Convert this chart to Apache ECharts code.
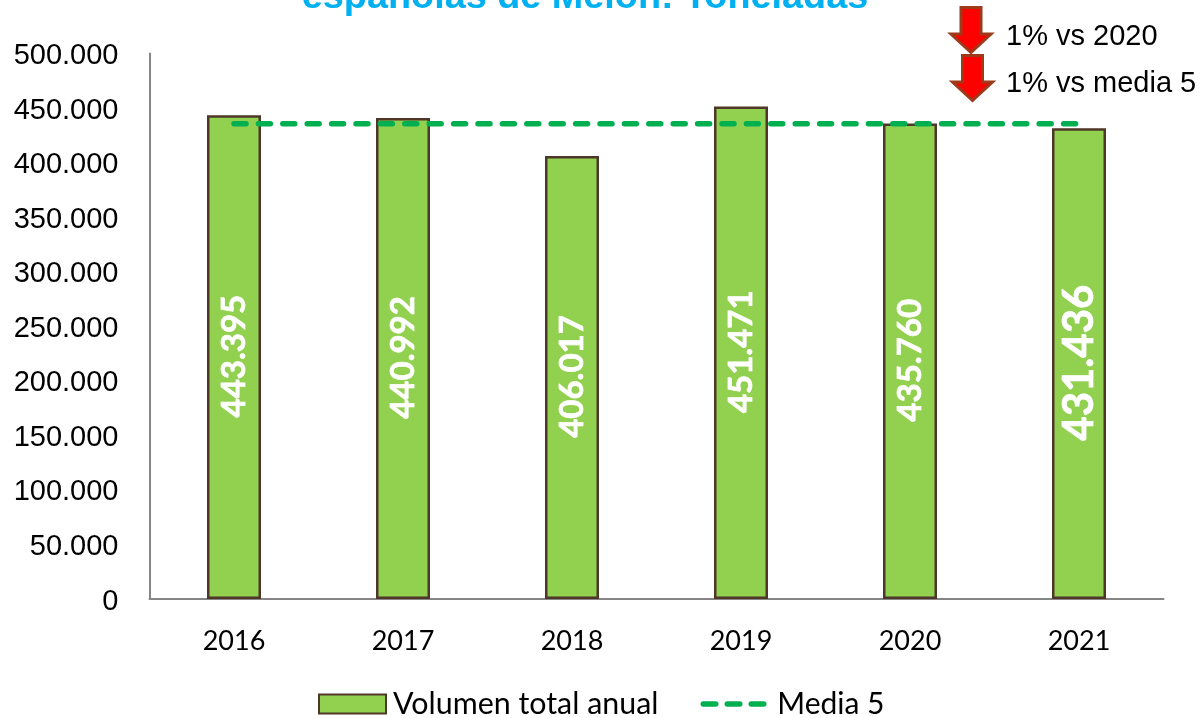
<!DOCTYPE html>
<html><head><meta charset="utf-8">
<style>html,body{margin:0;padding:0;background:#fff}#c{width:1202px;height:718px}</style>
<script src="https://cdn.jsdelivr.net/npm/echarts@6/dist/echarts.min.js"></script>
</head><body><div id="c"></div>
<script>
const categories = ['2016','2017','2018','2019','2020','2021'];
const volumen = [443395,440992,406017,451471,435760,431436];
const media5 = [435527,435527,435527,435527,435527,435527];
const yMax = 500000, yStep = 50000;
const arrowPoints = [[-10,-22.5],[10,-22.5],[10,4],[20,4],[0,22.5],[-20,4],[-10,4]];
const fmt = v => String(v).replace(/\B(?=(\d{3})+$)/g,'.');
const chart = echarts.init(document.getElementById('c'));
chart.setOption({
  animation:false,
  backgroundColor:'#fff',
  title:{text:'españolas de Melón: Toneladas',left:580,textAlign:'center',top:-26,
    textStyle:{fontFamily:'Liberation Sans',fontWeight:'bold',fontSize:37.8,color:'#00B0F0'}},
  grid:{left:149.5,right:38.5,top:53.5,bottom:119,containLabel:false},
  xAxis:{type:'category',data:categories,
    axisLine:{lineStyle:{color:'#868686',width:2}},axisTick:{show:false},
    axisLabel:{fontFamily:'Lato',fontSize:27,color:'#000',margin:29}},
  yAxis:{type:'value',min:0,max:yMax,interval:yStep,
    axisLine:{show:true,lineStyle:{color:'#868686',width:2}},axisTick:{show:false},
    splitLine:{show:false},
    axisLabel:{fontFamily:'Liberation Sans',fontSize:29,color:'#000',margin:31,verticalAlign:'top',lineHeight:5,formatter:v=>fmt(v)}},
  legend:[
    {data:[{name:'Volumen total anual',icon:'rect'}],left:318,top:689,itemWidth:67,itemHeight:19,
     textStyle:{fontFamily:'Lato',fontSize:30.4,color:'#000',padding:[0,0,0,2]},padding:0},
    {data:['Media 5'],left:700.5,top:689,itemWidth:61,itemHeight:19,
     itemStyle:{color:'transparent',borderColor:'transparent',borderWidth:0,opacity:0},
     lineStyle:{color:'#00B050',width:5.5,type:[12.5,11.5],cap:'round'},
     textStyle:{fontFamily:'Lato',fontSize:30,color:'#000',padding:[0,0,0,8]},padding:0}
  ],
  series:[
    {name:'Volumen total anual',type:'bar',barWidth:54,
     itemStyle:{color:'#92D050',borderColor:'#4E3629',borderWidth:2.5},
     data:volumen.map((v,i)=>({value:v,label:i===5?{fontSize:42}:{}})),
     label:{show:true,position:'inside',rotate:90,offset:[1,0],fontFamily:'Lato',fontWeight:'bold',fontSize:33,color:'#fff',
       textBorderColor:'#fff',textBorderWidth:0.7,formatter:p=>fmt(p.value)}},
    {name:'Media 5',type:'line',data:media5,symbol:'none',
     lineStyle:{color:'#00B050',width:5.5,type:[12,12.4],cap:'round'},itemStyle:{color:'#00B050'}}
  ],
  graphic:[
    {type:'polygon',x:971,y:30,shape:{points:arrowPoints},
     style:{fill:'#FF0000',stroke:'#9C3A1A',lineWidth:3}},
    {type:'polygon',x:972.5,y:78,shape:{points:arrowPoints},
     style:{fill:'#FF0000',stroke:'#9C3A1A',lineWidth:3}},
    {type:'text',x:1006,y:22,style:{text:'1% vs 2020',fontFamily:'Liberation Sans',fontSize:29,fill:'#000'}},
    {type:'text',x:1006,y:69,style:{text:'1% vs media 5',fontFamily:'Liberation Sans',fontSize:29,fill:'#000'}}
  ]
});
</script></body></html>
